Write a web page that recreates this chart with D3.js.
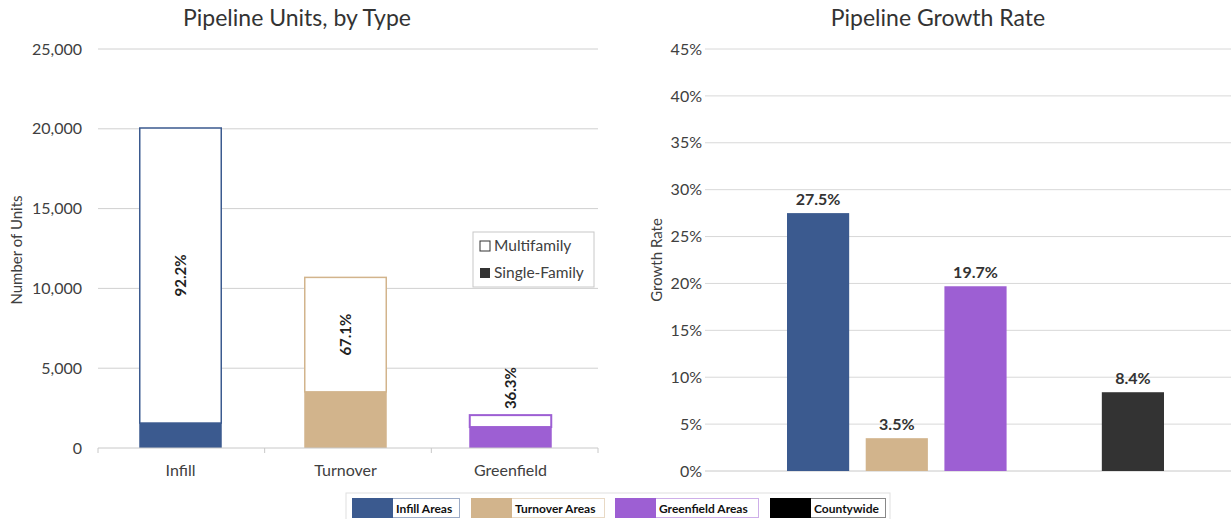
<!doctype html>
<html>
<head>
<meta charset="utf-8">
<style>
  body { margin: 0; background: #fff; }
  svg { font-family: Lato, "Open Sans", sans-serif; }
</style>
</head>
<body>
<script src="https://d3js.org/d3.v7.min.js"></script>
<svg id="chart" width="1231" height="519"></svg>
<script>
// left chart: pipeline units by type
const unitTypes = ['Infill', 'Turnover', 'Greenfield'];
const totalUnits = [20050, 10690, 2060];
const multiShare = [0.922, 0.671, 0.363];
const unitTicks = [0, 5000, 10000, 15000, 20000, 25000];

// right chart: growth rate
const rateCats = ['Infill Areas', 'Turnover Areas', 'Greenfield Areas', '', 'Countywide'];
const rateValues = [27.5, 3.5, 19.7, null, 8.4];
const rateTicks = [0, 5, 10, 15, 20, 25, 30, 35, 40, 45];

const legendNames = ['Infill Areas', 'Turnover Areas', 'Greenfield Areas', 'Countywide'];
const colors = ['#3b5a8f', '#d2b48c', '#9d5fd3', '#333333'];
const legendColors = ['#3b5a8f', '#d2b48c', '#9d5fd3', '#000000'];

const svg = d3.select('#chart');
const textCol = '#404040';

// ---------- left ----------
const L = { x0: 98, x1: 598, y0: 448, y1: 49 };
const xL = d3.scaleBand().domain(unitTypes).range([L.x0, L.x1 - 5]).paddingInner(0.5).paddingOuter(0.25);
const yL = d3.scaleLinear().domain([0, 25000]).range([L.y0, L.y1]);

svg.append('text').attr('x', 297).attr('y', 26).attr('text-anchor', 'middle')
  .attr('font-size', 23).attr('fill', '#333').text('Pipeline Units, by Type');

const gL = svg.append('g');
gL.selectAll('line.grid').data(unitTicks.slice(1)).join('line')
  .attr('x1', L.x0).attr('x2', L.x1)
  .attr('y1', d => yL(d)).attr('y2', d => yL(d))
  .attr('stroke', '#d0d0d0').attr('stroke-width', 1);

const yAxisL = d3.axisLeft(yL).tickValues(unitTicks).tickSize(0).tickPadding(16)
  .tickFormat(d3.format(','));
gL.append('g').attr('transform', `translate(${L.x0},0)`).call(yAxisL)
  .call(g => g.select('.domain').remove())
  .selectAll('text').attr('font-size', 16).attr('fill', textCol).attr('font-family', 'Lato, sans-serif');

svg.append('text').attr('transform', 'translate(22,250) rotate(-90)').attr('text-anchor', 'middle')
  .attr('font-size', 15).attr('fill', textCol).text('Number of Units');

// bars
unitTypes.forEach((t, i) => {
  const x = xL(t), w = xL.bandwidth();
  const single = totalUnits[i] * (1 - multiShare[i]);
  const c = colors[i];
  // multifamily (white with coloured outline)
  gL.append('rect').attr('x', x + 0.5).attr('y', yL(totalUnits[i]))
    .attr('width', w - 1).attr('height', yL(single) - yL(totalUnits[i]))
    .attr('fill', '#fff').attr('stroke', c).attr('stroke-width', i === 2 ? 2 : 1.5);
  // single-family
  gL.append('rect').attr('x', x).attr('y', yL(single))
    .attr('width', w).attr('height', yL(0) - yL(single)).attr('fill', c);
  // label
  const mid = i === 2 ? yL(totalUnits[i]) - 27 : (yL(totalUnits[i]) + yL(single)) / 2;
  gL.append('text').attr('transform', `translate(${x + w / 2 + 5},${mid}) rotate(-90)`)
    .attr('text-anchor', 'middle').attr('font-size', 15).attr('font-weight', 'bold')
    .attr('fill', '#222').text(d3.format('.1%')(multiShare[i]));
});

// x axis
gL.append('line').attr('x1', L.x0).attr('x2', L.x1).attr('y1', L.y0).attr('y2', L.y0)
  .attr('stroke', '#c8c8c8');
const bounds = [0, 1, 2, 3].map(k => L.x0 + k * (L.x1 - L.x0) / 3);
gL.selectAll('line.tk').data(bounds).join('line')
  .attr('x1', d => d).attr('x2', d => d).attr('y1', L.y0).attr('y2', L.y0 + 5)
  .attr('stroke', '#c8c8c8');
gL.selectAll('text.cat').data(unitTypes).join('text')
  .attr('x', d => xL(d) + xL.bandwidth() / 2).attr('y', 476).attr('text-anchor', 'middle')
  .attr('font-size', 16).attr('fill', textCol).text(d => d);

// inner legend
const lg = svg.append('g').attr('transform', 'translate(473,232)');
lg.append('rect').attr('width', 121).attr('height', 55).attr('fill', '#fff').attr('stroke', '#c8c8c8');
lg.append('rect').attr('x', 7).attr('y', 9).attr('width', 10).attr('height', 10)
  .attr('fill', '#fff').attr('stroke', '#333');
lg.append('text').attr('x', 21).attr('y', 19).attr('font-size', 15.5).attr('fill', textCol).text('Multifamily');
lg.append('rect').attr('x', 7).attr('y', 36).attr('width', 10).attr('height', 10).attr('fill', '#333');
lg.append('text').attr('x', 21).attr('y', 46).attr('font-size', 15.5).attr('fill', textCol).text('Single-Family');

// ---------- right ----------
const R = { x0: 705, x1: 1231, y0: 471, y1: 49 };
const xR = d3.scaleBand().domain(rateCats).range([787, 1164]).paddingInner(0.21).paddingOuter(0);
const yR = d3.scaleLinear().domain([0, 45]).range([R.y0, R.y1]);

svg.append('text').attr('x', 938).attr('y', 26).attr('text-anchor', 'middle')
  .attr('font-size', 23).attr('fill', '#333').text('Pipeline Growth Rate');

const gR = svg.append('g');
gR.selectAll('line.grid').data(rateTicks).join('line')
  .attr('x1', R.x0).attr('x2', R.x1)
  .attr('y1', d => yR(d)).attr('y2', d => yR(d))
  .attr('stroke', d => d === 0 ? '#c8c8c8' : '#d8d8d8');

gR.append('g').attr('transform', `translate(${R.x0},0)`)
  .call(d3.axisLeft(yR).tickValues(rateTicks).tickSize(0).tickPadding(3).tickFormat(d => d + '%'))
  .call(g => g.select('.domain').remove())
  .selectAll('text').attr('font-size', 16).attr('fill', textCol).attr('font-family', 'Lato, sans-serif');

svg.append('text').attr('transform', 'translate(662,260) rotate(-90)').attr('text-anchor', 'middle')
  .attr('font-size', 15).attr('fill', textCol).text('Growth Rate');

const rateData = rateCats.map((c, i) => ({ c, v: rateValues[i], col: colors[i === 4 ? 3 : i] }))
  .filter(d => d.v != null);
gR.selectAll('rect.bar').data(rateData).join('rect')
  .attr('x', d => xR(d.c)).attr('y', d => yR(d.v))
  .attr('width', xR.bandwidth()).attr('height', d => yR(0) - yR(d.v))
  .attr('fill', d => d.col);
gR.selectAll('text.val').data(rateData).join('text')
  .attr('x', d => xR(d.c) + xR.bandwidth() / 2).attr('y', d => yR(d.v) - 8)
  .attr('text-anchor', 'middle').attr('font-size', 16).attr('font-weight', 'bold')
  .attr('fill', '#333').text(d => d.v.toFixed(1) + '%');

// ---------- bottom legend ----------
const items = [
  { x: 352, w: 107 }, { x: 471, w: 133 }, { x: 615, w: 143 }, { x: 770, w: 115 }
];
const bl = svg.append('g');
bl.append('rect').attr('x', 346).attr('y', 493).attr('width', 544).attr('height', 30)
  .attr('fill', '#fff').attr('stroke', '#e0e0e0');
legendNames.forEach((n, i) => {
  const it = items[i];
  bl.append('rect').attr('x', it.x + 0.5).attr('y', 498.5).attr('width', it.w).attr('height', 19)
    .attr('fill', '#fff').attr('stroke', i === 3 ? '#888' : legendColors[i]).attr('stroke-opacity', i === 3 ? 1 : 0.5);
  bl.append('rect').attr('x', it.x).attr('y', 498).attr('width', 41).attr('height', 20)
    .attr('fill', legendColors[i]);
  bl.append('text').attr('x', it.x + 44).attr('y', 512.5).attr('font-size', 12).attr('font-weight', 'bold')
    .attr('fill', '#111').text(n);
});
</script>
</body>
</html>
